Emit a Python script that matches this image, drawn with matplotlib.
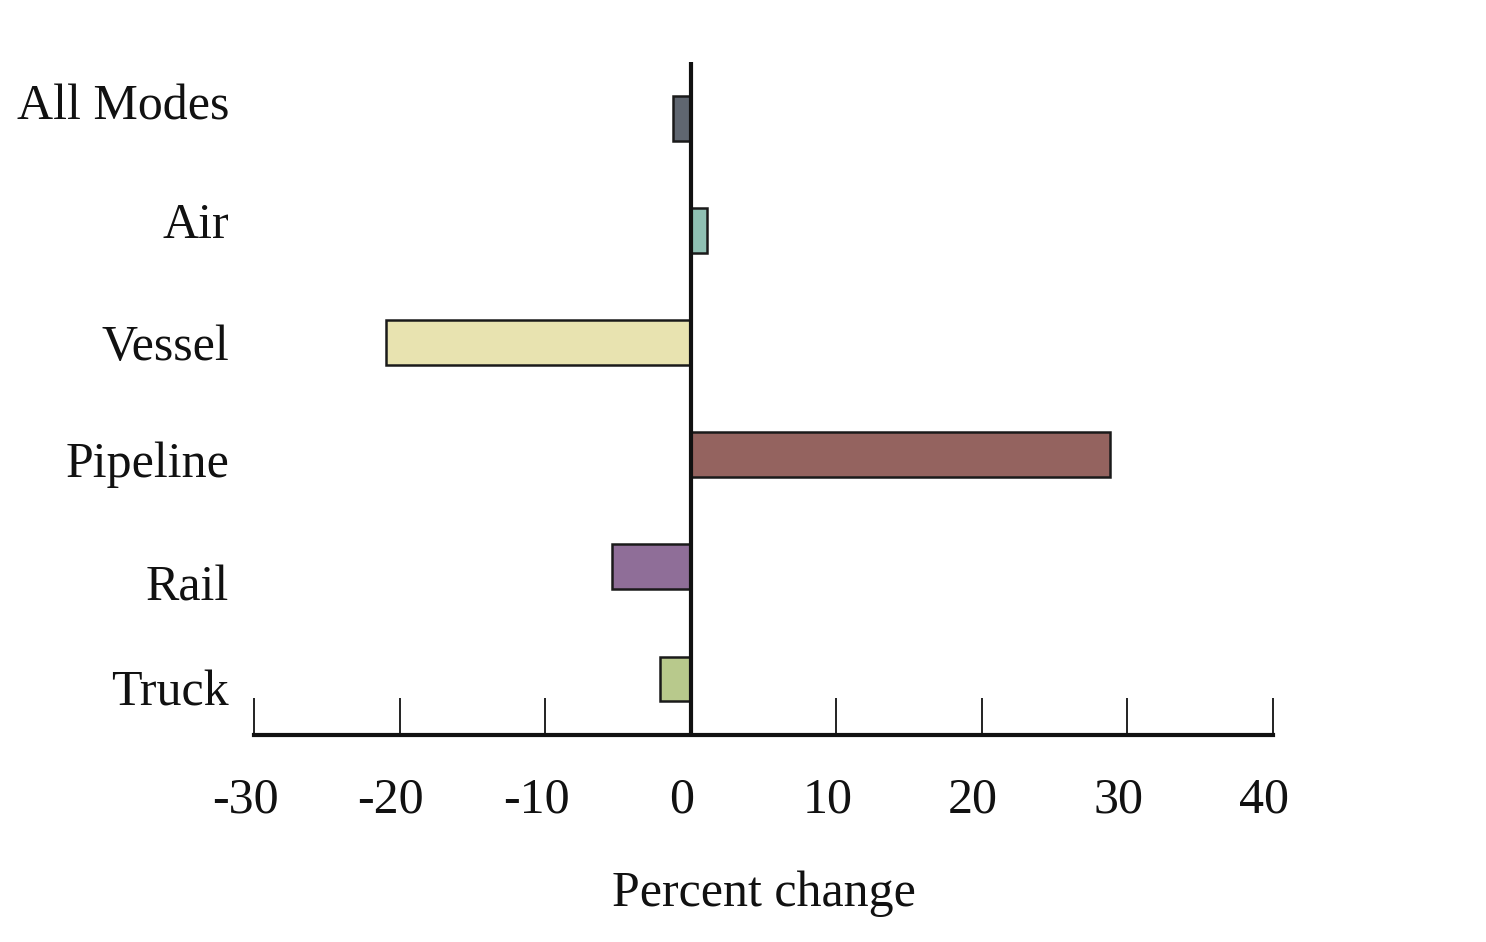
import matplotlib.pyplot as plt
import matplotlib.transforms as mtransforms
import numpy as np

plt.rcParams['font.family'] = ['Liberation Serif', 'DejaVu Serif']

# data
modes = ['All Modes', 'Air', 'Vessel', 'Pipeline', 'Rail', 'Truck']
pct_change = [-1.2, 1.1, -20.9, 28.8, -5.4, -2.1]
colors = ['#5f6670', '#8fc0b3', '#e8e3b0', '#94635f', '#8f6e98', '#b8c98c']
xticks = [-30, -20, -10, 0, 10, 20, 30, 40]

fig = plt.figure(figsize=(14.86, 9.42), dpi=100)
ax = fig.add_axes([0.1709, 0.2197, 0.6858, 0.7145])

# top of chart first
ypos = np.arange(len(modes))[::-1]
ax.barh(ypos, pct_change, height=0.4, color=colors, edgecolor='#1a1a1a', linewidth=1.8, zorder=2)
ax.axvline(0, color='#111111', linewidth=3, zorder=3)

ax.set_xlim(-30, 40)
ax.set_ylim(-0.5, 5.5)
ax.set_xticks(xticks)
ax.set_xticklabels([str(t) for t in xticks])
ax.set_yticks(ypos)
ax.set_yticklabels(modes)

for side in ['top', 'right', 'left']:
    ax.spines[side].set_visible(False)
ax.spines['bottom'].set_linewidth(3)
ax.spines['bottom'].set_color('#111111')

ax.tick_params(axis='x', direction='in', length=27, width=1.3, pad=30, labelsize=36, colors='#111111')
ax.tick_params(axis='y', length=0, pad=18, labelsize=36, colors='#111111')

# the original labels sit a little off the bar centres
label_shift_px = [16, 10, 0, -5, -16, -9]
for lab, dy in zip(ax.get_yticklabels(), label_shift_px):
    lab.set_transform(lab.get_transform() + mtransforms.ScaledTranslation(0, dy / 100, fig.dpi_scale_trans))
for lab in ax.get_xticklabels():
    lab.set_transform(lab.get_transform() + mtransforms.ScaledTranslation(-9 / 100, 0, fig.dpi_scale_trans))

ax.set_xlabel('Percent change', fontsize=36, labelpad=34, color='#111111')

plt.savefig('out.png', dpi=100)
